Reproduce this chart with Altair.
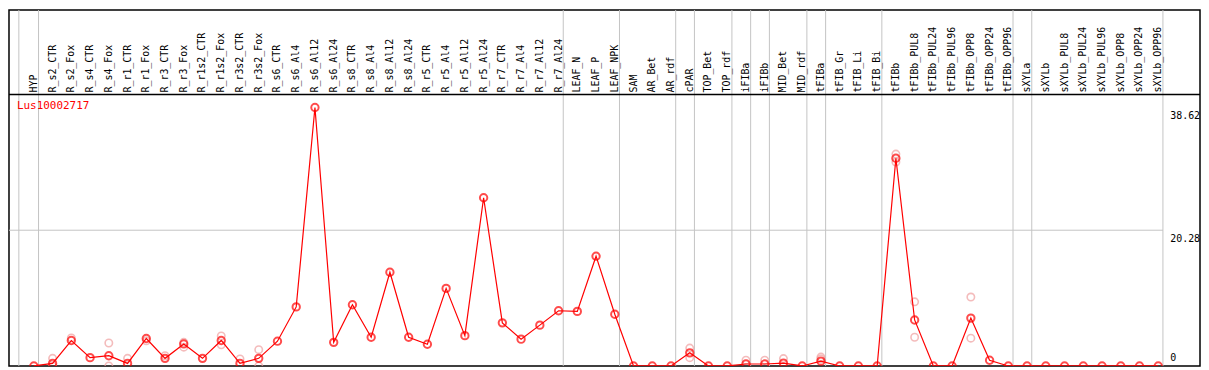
import altair as alt
import pandas as pd

categories = [
    "HYP", "R_s2_CTR", "R_s2_Fox", "R_s4_CTR", "R_s4_Fox", "R_r1_CTR", "R_r1_Fox",
    "R_r3_CTR", "R_r3_Fox", "R_r1s2_CTR", "R_r1s2_Fox", "R_r3s2_CTR", "R_r3s2_Fox",
    "R_s6_CTR", "R_s6_Al4", "R_s6_Al12", "R_s6_Al24", "R_s8_CTR", "R_s8_Al4",
    "R_s8_Al12", "R_s8_Al24", "R_r5_CTR", "R_r5_Al4", "R_r5_Al12", "R_r5_Al24",
    "R_r7_CTR", "R_r7_Al4", "R_r7_Al12", "R_r7_Al24", "LEAF_N", "LEAF_P", "LEAF_NPK",
    "SAM", "AR_Bet", "AR_rdf", "cPAR", "TOP_Bet", "TOP_rdf", "iFIBa", "iFIBb",
    "MID_Bet", "MID_rdf", "tFIBa", "tFIB_Gr", "tFIB_Li", "tFIB_Bi", "tFIBb",
    "tFIBb_PUL8", "tFIBb_PUL24", "tFIBb_PUL96", "tFIBb_OPP8", "tFIBb_OPP24",
    "tFIBb_OPP96", "sXYLa", "sXYLb", "sXYLb_PUL8", "sXYLb_PUL24", "sXYLb_PUL96",
    "sXYLb_OPP8", "sXYLb_OPP24", "sXYLb_OPP96",
]

values = [
    0.0, 0.38, 3.8, 1.24, 1.53, 0.38, 4.1, 1.14, 3.29, 1.14, 3.81, 0.38, 1.14,
    3.7, 8.82, 38.62, 3.53, 9.15, 4.29, 14.0, 4.29, 3.25, 11.59, 4.53, 25.13,
    6.44, 4.0, 6.1, 8.25, 8.15, 16.4, 7.72,
    0.0, 0.0, 0.0, 1.96, 0.0, 0.0, 0.29, 0.29, 0.43, 0.0, 0.72, 0.0, 0.0, 0.0,
    31.04, 6.87, 0.0, 0.0, 7.15, 0.86, 0.0, 0.0, 0.0, 0.0, 0.0, 0.0, 0.0, 0.0, 0.0,
]

# faint replicate points (category index, value)
rep_idx = [1, 1, 2, 4, 4, 5, 6, 7, 8, 8, 10, 10, 11, 12, 12,
           35, 35, 38, 39, 40, 42, 42, 46, 46, 47, 47, 50, 50]
rep_val = [1.14, 0.0, 4.19, 3.43, 0.0, 1.14, 3.76, 1.53, 3.53, 2.81, 4.48, 3.15, 1.05, 2.43, 0.0,
           2.67, 1.24, 0.86, 0.86, 1.1, 1.33, 1.05, 31.66, 30.47, 9.58, 4.29, 10.3, 4.15]

# group separators (positions on the category index scale)
separators = [-0.8, 0.25, 28.25, 31.25, 34.25, 35.25, 37.25, 38.25, 39.25,
              41.25, 42.25, 45.25, 52.25, 53.25, 60.25]

tick_values = [0, 20.28, 38.62]
grid_values = [20.28]
gene = "Lus10002717"

W, H = 1198, 358
left_px, right_px = 25, 42
step = (W - left_px - right_px) / (len(categories) - 1)
xdom = [-left_px / step, (W - left_px) / step]
top_px = 98
ymax = max(tick_values) * H / (H - top_px)
header_y = 85

FONT = "DejaVu Sans Mono"
RED = "#ff0000"

x_scale = alt.Scale(domain=xdom, nice=False, zero=False)
y_scale = alt.Scale(domain=[0, ymax], nice=False, zero=False)

main_df = pd.DataFrame({"idx": list(range(len(categories))), "cat": categories, "val": values})
rep_df = pd.DataFrame({"idx": rep_idx, "val": rep_val})
sep_df = pd.DataFrame({"pos": separators})
grid_df = pd.DataFrame({"v": grid_values, "x0": [xdom[0]], "x1": [separators[-1]]})
top_ticks_df = pd.DataFrame({"v": [t for t in tick_values if t > 0],
                             "lab": [f"{t:g}" for t in tick_values if t > 0]})
zero_tick_df = pd.DataFrame({"v": [0], "lab": ["0"]})
title_df = pd.DataFrame({"t": [gene]})

X = alt.X("idx:Q", scale=x_scale, axis=None)

seps = alt.Chart(sep_df).mark_rule(color="#c4c4c4", strokeWidth=1).encode(
    x=alt.X("pos:Q", scale=x_scale, axis=None),
    y=alt.value(0),
    y2=alt.value(H),
)

grid = alt.Chart(grid_df).mark_rule(color="#c4c4c4", strokeWidth=1).encode(
    x=alt.X("x0:Q", scale=x_scale, axis=None),
    x2="x1:Q",
    y=alt.Y("v:Q", scale=y_scale, axis=None),
)

header_line = alt.Chart(title_df).mark_rule(color="black", strokeWidth=1.5).encode(
    x=alt.value(0), x2=alt.value(W), y=alt.value(header_y)
)

labels = alt.Chart(main_df).mark_text(
    angle=270, align="left", baseline="middle", font=FONT, fontSize=10, color="black"
).encode(x=X, y=alt.value(header_y - 2), text="cat:N")

reps = alt.Chart(rep_df).mark_point(
    shape="circle", filled=False, size=55, strokeWidth=1.6, color="#f0a0a0", clip=True
).encode(x=X, y=alt.Y("val:Q", scale=y_scale, axis=None))

line = alt.Chart(main_df).mark_line(color=RED, strokeWidth=1.2, clip=True).encode(
    x=X, y=alt.Y("val:Q", scale=y_scale, axis=None)
)

pts = alt.Chart(main_df).mark_point(
    shape="circle", filled=False, size=55, strokeWidth=2, color=RED, clip=True
).encode(x=X, y=alt.Y("val:Q", scale=y_scale, axis=None))

top_ticks = alt.Chart(top_ticks_df).mark_text(
    align="left", baseline="top", font=FONT, fontSize=10, color="black", dy=4
).encode(x=alt.value(W - 30), y=alt.Y("v:Q", scale=y_scale, axis=None), text="lab:N")

zero_tick = alt.Chart(zero_tick_df).mark_text(
    align="left", baseline="bottom", font=FONT, fontSize=10, color="black", dy=-3
).encode(x=alt.value(W - 30), y=alt.Y("v:Q", scale=y_scale, axis=None), text="lab:N")

title = alt.Chart(title_df).mark_text(
    align="left", baseline="middle", font=FONT, fontSize=11, color=RED
).encode(x=alt.value(8), y=alt.value(97), text="t:N")

chart = alt.layer(
    seps, grid, header_line, labels, reps, line, pts, top_ticks, zero_tick, title
).properties(
    width=W, height=H,
    autosize=alt.AutoSizeParams(type="none"),
    padding={"left": 1, "top": 1, "right": 1, "bottom": 1},
).configure(
    background="white",
    view=alt.ViewConfig(stroke="black", strokeWidth=1.5),
)

chart.save("out.html", embed_options={"renderer": "svg", "actions": False})
